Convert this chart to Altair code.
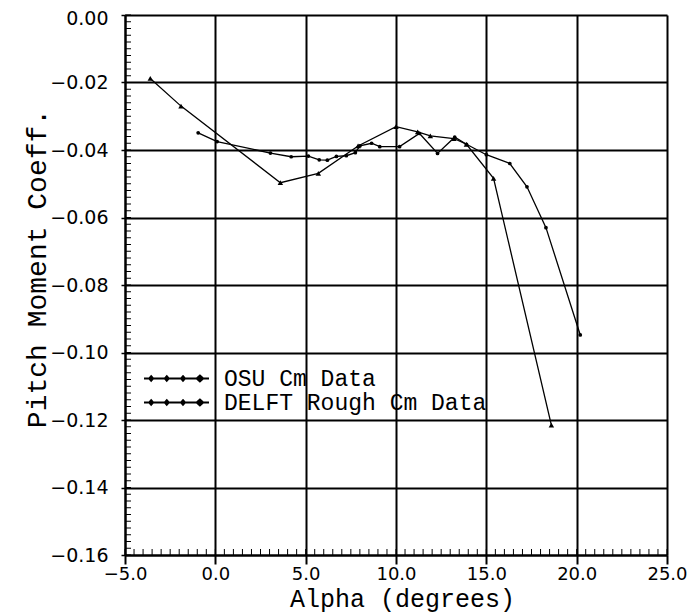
import altair as alt
import pandas as pd

# ---- data ----
series_names = ["OSU Cm Data", "DELFT Rough Cm Data"]

osu_alpha = [-3.6, -1.9, 3.6, 5.7, 7.9, 10.0, 11.2, 11.9, 13.2, 13.9, 15.4, 18.6]
osu_cm = [-0.0188, -0.0270, -0.0497, -0.0469, -0.0388, -0.0331, -0.0346, -0.0358,
          -0.0366, -0.0383, -0.0484, -0.1215]

delft_alpha = [-0.95, 0.1, 3.05, 4.2, 5.15, 5.75, 6.2, 6.7, 7.25, 7.75, 8.0, 8.65, 9.1,
               10.2, 11.3, 12.3, 13.25, 13.9, 15.0, 16.3, 17.25, 18.3, 20.2]
delft_cm = [-0.0349, -0.0375, -0.0409, -0.0420, -0.0418, -0.0429, -0.0430, -0.0419,
            -0.0417, -0.0408, -0.0388, -0.0380, -0.0390, -0.0390, -0.0351, -0.0410,
            -0.0362, -0.0383, -0.0414, -0.0440, -0.0509, -0.0630, -0.0948]

x_major = [-5, 0, 5, 10, 15, 20, 25]
y_major = [0.0, -0.02, -0.04, -0.06, -0.08, -0.10, -0.12, -0.14, -0.16]
x_minor = [v / 2 for v in range(-10, 51)]
y_minor = [-v / 500 for v in range(0, 81)]

df = pd.concat([
    pd.DataFrame({"alpha": osu_alpha, "cm": osu_cm, "series": series_names[0]}),
    pd.DataFrame({"alpha": delft_alpha, "cm": delft_cm, "series": series_names[1]}),
])
x_minor_df = pd.DataFrame({"alpha": x_minor, "cm": y_major[-1]})
y_minor_df = pd.DataFrame({"alpha": x_major[0], "cm": y_minor})

W, H = 542, 540
x_scale = alt.Scale(domain=[-5, 25], nice=False, zero=False)
y_scale = alt.Scale(domain=[-0.16, 0], nice=False, zero=False)

x_enc = alt.X("alpha:Q", scale=x_scale, axis=alt.Axis(
    values=x_major, format=".1f", grid=True, gridColor="black", gridWidth=2,
    gridOpacity=1, domainColor="black", domainWidth=2, tickColor="black",
    tickSize=9, tickWidth=2, labelFont="DejaVu Sans", labelFontSize=18,
    labelColor="black", labelPadding=1, labelFlush=False,
    title="Alpha (degrees)", titleFont="Liberation Mono", titleFontSize=25,
    titleFontWeight="normal", titleColor="black", titleX=277, titleY=43,
    titleBaseline="middle"))
y_enc = alt.Y("cm:Q", scale=y_scale, axis=alt.Axis(
    values=y_major, format=".2f", grid=True, gridColor="black", gridWidth=2,
    gridOpacity=1, domainColor="black", domainWidth=2, tickColor="black",
    tickSize=4, tickWidth=1.5, labelFont="DejaVu Sans", labelFontSize=19,
    labelColor="black", labelPadding=13, labelFlush=False,
    labelOffset={"condition": {"test": "datum.value == 0", "value": 3}, "value": 0},
    title="Pitch Moment Coeff.", titleFont="Liberation Mono", titleFontSize=28,
    titleFontWeight="normal", titleColor="black", titleX=-88, titleY=253,
    titleBaseline="middle"))

legend_path = ("M-1,0H1"
               "M-0.78,-0.07L-0.72,0L-0.78,0.07L-0.84,0Z"
               "M-0.3,-0.07L-0.24,0L-0.3,0.07L-0.36,0Z"
               "M0.2,-0.07L0.26,0L0.2,0.07L0.14,0Z"
               "M0.72,-0.09L0.82,0L0.72,0.09L0.62,0Z")

color = alt.Color(
    "series:N",
    scale=alt.Scale(domain=series_names, range=["black", "black"]),
    legend=alt.Legend(
        title=None, orient="none", legendX=18, legendY=352,
        symbolType=legend_path, symbolSize=4225, symbolStrokeWidth=2,
        symbolFillColor="black", clipHeight=23, rowPadding=0, padding=0,
        labelFont="Liberation Mono", labelFontSize=23, labelColor="black",
        labelOffset=14, labelLimit=400,
    ),
)

lines = alt.Chart(df).mark_line(strokeWidth=1.3, clip=True).encode(
    color=color,
    detail="series:N",
)

tri = alt.Chart(df).transform_filter(
    alt.datum.series == series_names[0]
).mark_point(shape="triangle-up", filled=True, size=30, opacity=1, color="black")

dots = alt.Chart(df).transform_filter(
    alt.datum.series == series_names[1]
).mark_point(shape="circle", filled=True, size=14, opacity=1, color="black")

x_minor_ticks = alt.Chart(x_minor_df).mark_tick(
    orient="vertical", size=6, thickness=1, color="black", yOffset=-3, opacity=1
)

y_minor_ticks = alt.Chart(y_minor_df).mark_tick(
    orient="horizontal", size=6, thickness=1, color="black", xOffset=3, opacity=1
)

chart = alt.layer(lines, x_minor_ticks, y_minor_ticks, tri, dots).encode(
    x=x_enc, y=y_enc
).properties(
    width=W, height=H,
    autosize=alt.AutoSizeParams(type="none"),
    padding={"left": 117, "top": 7, "right": 20, "bottom": 58},
    background="white",
).configure_view(stroke=None)

chart.save("out.html", embed_options={"renderer": "svg", "actions": False})
